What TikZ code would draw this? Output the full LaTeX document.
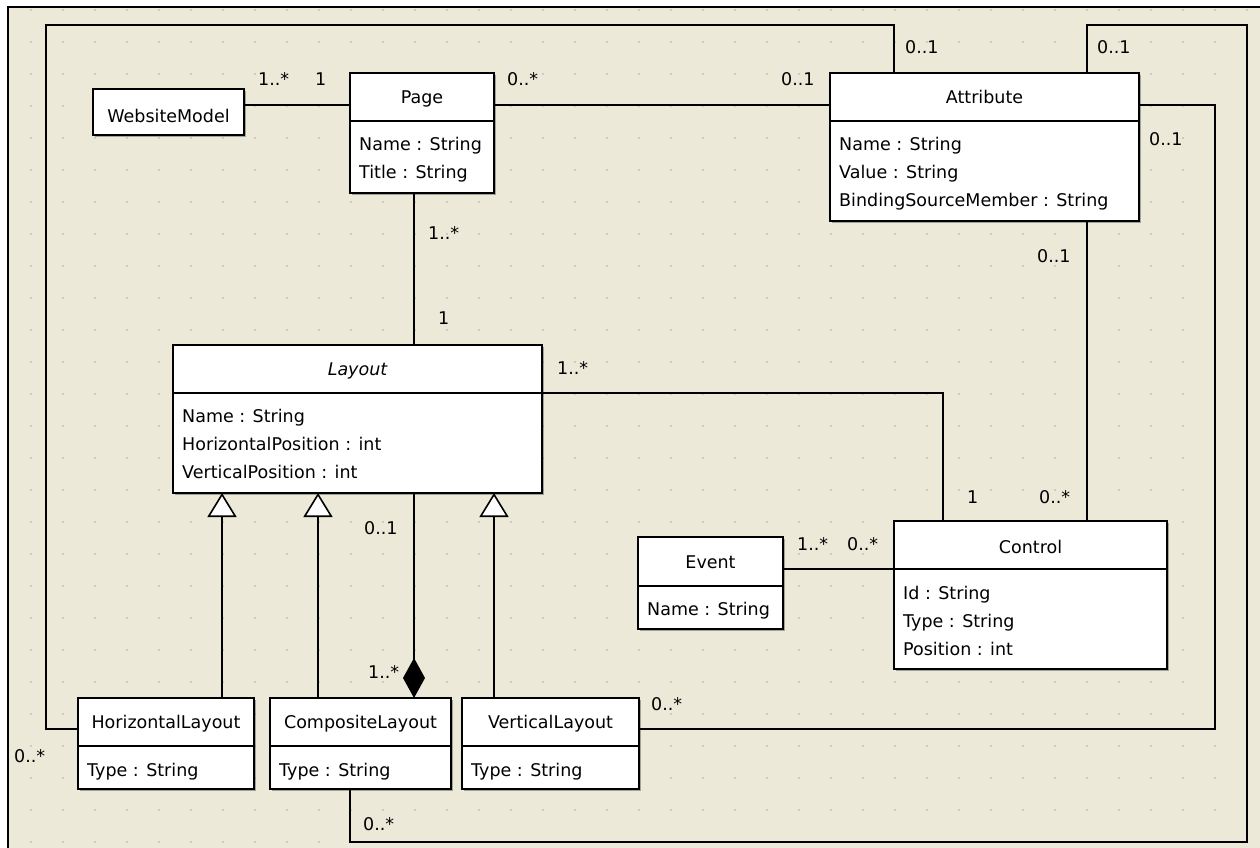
\documentclass[tikz,border=0pt]{standalone}
\usepackage{fontspec}
\setmainfont{DejaVu Sans}
\usetikzlibrary{arrows.meta,shadows,calc}
\definecolor{bg}{RGB}{236,233,216}
\definecolor{dotc}{RGB}{204,203,192}
\pgfdeclarelayer{backlayer}
\pgfdeclarelayer{connlayer}
\pgfsetlayers{backlayer,connlayer,main}
\begin{document}
\begin{tikzpicture}[x=1pt,y=-1pt,
  font=\fontsize{17.5}{21}\selectfont,
  cls/.style={draw, line width=1.6pt, fill=white, anchor=north west, inner sep=0pt, outer sep=0pt,
    drop shadow={shadow xshift=2pt, shadow yshift=-2pt, opacity=0.3, fill=black}},
  conn/.style={line width=1.6pt},
  divl/.style={line width=1.6pt},
  txt/.style={inner sep=0pt, anchor=base west},
  ttl/.style={inner sep=0pt, anchor=base},
  lbl/.style={inner sep=0pt, anchor=base west},
  gen/.style={conn, -{Triangle[fill=white, length=24pt, width=29pt]}},
  comp/.style={conn, -{Diamond[fill=black, length=40pt, width=22pt]}}]
\useasboundingbox (0,0) rectangle (1260,848);
% background and frame
\begin{pgfonlayer}{backlayer}
\fill[white] (0,0) rectangle (1260,848);
\fill[bg] (8,7) rectangle (1260,848);
\foreach \i in {0,...,38}{\foreach \j in {0,...,26}{
  \fill[dotc] ({31+32*\i-1},{10+32*\j-1}) rectangle ++(2,2);}}
\draw[line width=2pt] (8,848) -- (8,7) -- (1260,7);
\end{pgfonlayer}

% class boxes
\node[cls, minimum width=151pt, minimum height=46pt] (wm) at (93,89) {};
\node[cls, minimum width=144pt, minimum height=120pt] (page) at (350,73) {};
\node[cls, minimum width=309pt, minimum height=148pt] (attr) at (830,73) {};
\node[cls, minimum width=369pt, minimum height=148pt] (layout) at (173,345) {};
\node[cls, minimum width=145pt, minimum height=92pt] (event) at (638,537) {};
\node[cls, minimum width=273pt, minimum height=148pt] (ctrl) at (894,521) {};
\node[cls, minimum width=176pt, minimum height=91pt] (hl) at (78,698) {};
\node[cls, minimum width=181pt, minimum height=91pt] (cl) at (270,698) {};
\node[cls, minimum width=177pt, minimum height=91pt] (vl) at (462,698) {};

% loop corner coordinates
\coordinate (loopL) at (46,25);
\coordinate (rTop) at (1247,25);
\coordinate (rBot) at (1247,842);
\coordinate (aR) at (1215,729);

% connectors (behind the boxes)
\begin{pgfonlayer}{connlayer}
\draw[conn] ([yshift=7pt]wm.east) -- ([yshift=-32pt]page.north west);
\draw[conn] ([yshift=-32pt]page.north east) -- ([yshift=-32pt]attr.north west);
\draw[conn] ([xshift=64pt]page.south west) -- ([xshift=64pt]page.south west |- layout.north);
\draw[conn] ([xshift=64pt]attr.north west) |- (loopL) |- ([yshift=-31pt]hl.north west);
\draw[conn] ([xshift=257pt]attr.north west) |- (rTop) -- (rBot) -| ([xshift=80pt]cl.south west);
\draw[conn] ([yshift=-32pt]attr.north east) -| (aR) -- ([yshift=-31pt]vl.north east);
\draw[conn] ([xshift=257pt]attr.south west) -- ([xshift=193pt]ctrl.north west);
\draw[conn] ([yshift=-48pt]layout.north east) -| ([xshift=49pt]ctrl.north west);
\draw[conn] ([yshift=-32pt]event.north east) -- ([yshift=-48pt]ctrl.north west);
\draw[gen] ([xshift=144pt]hl.north west) -- ([xshift=144pt]hl.north west |- layout.south);
\draw[gen] ([xshift=48pt]cl.north west) -- ([xshift=48pt]cl.north west |- layout.south);
\draw[gen] ([xshift=32pt]vl.north west) -- ([xshift=32pt]vl.north west |- layout.south);
\draw[comp] ([xshift=144pt]cl.north west |- layout.south) -- ([xshift=144pt]cl.north west);
\end{pgfonlayer}

% dividers
\draw[divl] (350,121) -- (494,121);
\draw[divl] (830,121) -- (1139,121);
\draw[divl] (173,393) -- (542,393);
\draw[divl] (638,586) -- (783,586);
\draw[divl] (894,569) -- (1167,569);
\draw[divl] (78,746) -- (254,746);
\draw[divl] (270,746) -- (451,746);
\draw[divl] (462,746) -- (639,746);

% texts
\node[ttl] (wmT) at (168.5,122) {WebsiteModel};
\node[ttl] (pageT) at (422,104) {Page};
\node[txt] (pageA1) at (359,150) {Name : String};
\node[txt] (pageA2) at (359,178) {Title : String};
\node[ttl] (attrT) at (984.5,103) {Attribute};
\node[txt] (attrA1) at (839,150) {Name : String};
\node[txt] (attrA2) at (839,178) {Value : String};
\node[txt] (attrA3) at (839,206) {BindingSourceMember : String};
\node[ttl, font=\fontsize{17.5}{21}\selectfont\itshape] (layoutT) at (357.5,375) {Layout};
\node[txt] (layoutA1) at (182,422) {Name : String};
\node[txt] (layoutA2) at (182,450) {HorizontalPosition : int};
\node[txt] (layoutA3) at (182,478) {VerticalPosition : int};
\node[ttl] (eventT) at (710.5,568) {Event};
\node[txt] (eventA1) at (647,615) {Name : String};
\node[ttl] (ctrlT) at (1030.5,553) {Control};
\node[txt] (ctrlA1) at (903,599) {Id : String};
\node[txt] (ctrlA2) at (903,627) {Type : String};
\node[txt] (ctrlA3) at (903,655) {Position : int};
\node[ttl] (hlT) at (166,728) {HorizontalLayout};
\node[txt] (hlA1) at (87,776) {Type : String};
\node[ttl] (clT) at (360.5,728) {CompositeLayout};
\node[txt] (clA1) at (279,776) {Type : String};
\node[ttl] (vlT) at (550.5,728) {VerticalLayout};
\node[txt] (vlA1) at (471,776) {Type : String};

% multiplicities
\node[lbl] (m1) at (258,86) {1..*};
\node[lbl] (m2) at (315,86) {1};
\node[lbl] (m3) at (507,86) {0..*};
\node[lbl] (m4) at (781,86) {0..1};
\node[lbl] (m5) at (905,54) {0..1};
\node[lbl] (m6) at (1097,54) {0..1};
\node[lbl] (m7) at (1149,146) {0..1};
\node[lbl] (m8) at (1037,262) {0..1};
\node[lbl] (m9) at (428,239) {1..*};
\node[lbl] (m10) at (438,324) {1};
\node[lbl] (m11) at (557,374) {1..*};
\node[lbl] (m12) at (967,503) {1};
\node[lbl] (m13) at (1039,503) {0..*};
\node[lbl] (m14) at (797,550) {1..*};
\node[lbl] (m15) at (847,550) {0..*};
\node[lbl] (m16) at (364,534) {0..1};
\node[lbl] (m17) at (368,678) {1..*};
\node[lbl] (m18) at (14,762) {0..*};
\node[lbl] (m19) at (651,710) {0..*};
\node[lbl] (m20) at (363,830) {0..*};
\end{tikzpicture}
\end{document}
